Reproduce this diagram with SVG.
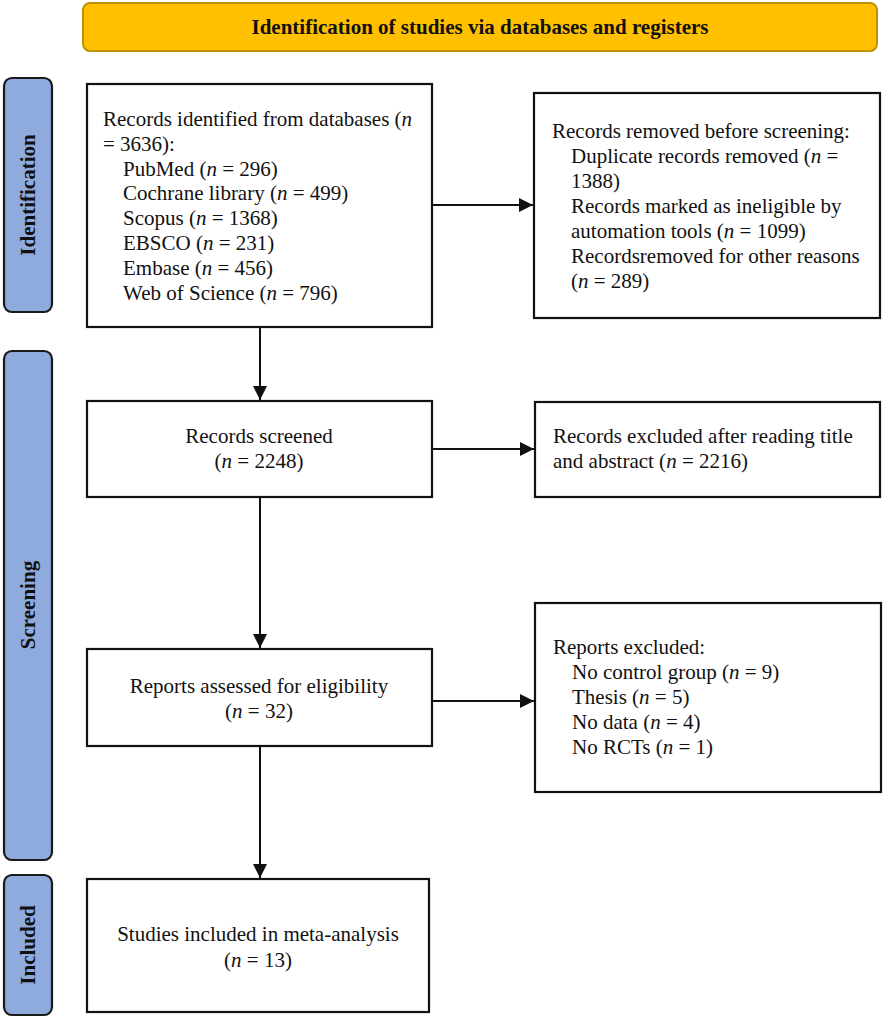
<svg xmlns="http://www.w3.org/2000/svg" width="886" height="1021" viewBox="0 0 886 1021">
<style>
.t{font-family:"Liberation Serif","Times New Roman",serif;font-size:21px;fill:#111}
.b{font-family:"Liberation Serif","Times New Roman",serif;font-weight:bold;font-size:21px;fill:#111}
.i{font-style:italic}
.box{fill:#fff;stroke:#111;stroke-width:2.2}
.side{fill:#8FAADC;stroke:#1a1a1a;stroke-width:2.2}
.ln{stroke:#111;stroke-width:2;fill:none}
.c{text-anchor:middle}
</style>
<defs>
<marker id="ah" viewBox="0 0 14 14" refX="14" refY="7" markerWidth="14" markerHeight="14" markerUnits="userSpaceOnUse" orient="auto">
<path d="M0,0 L14,7 L0,14 z" fill="#111"/>
</marker>
</defs>
<rect width="886" height="1021" fill="#fff"/>
<g id="banner">
<rect x="83" y="3" width="794" height="48" rx="7" fill="#FFC000" stroke="#BF9000" stroke-width="2"/>
<text class="b c" x="480" y="34">Identification of studies via databases and registers</text>
</g>
<g id="side-identification">
<rect class="side" x="4" y="78" width="48" height="234" rx="8"/>
<text class="b c" transform="translate(35,195) rotate(-90)">Identification</text>
</g>
<g id="side-screening">
<rect class="side" x="4" y="351" width="48" height="509" rx="8"/>
<text class="b c" transform="translate(35,605) rotate(-90)">Screening</text>
</g>
<g id="side-included">
<rect class="side" x="4" y="875" width="48" height="140" rx="8"/>
<text class="b c" transform="translate(35,945) rotate(-90)">Included</text>
</g>
<g id="records-identified">
<rect class="box" x="87" y="84" width="345" height="243"/>
<text class="t" x="103" y="126">Records identified from databases (<tspan class="i">n</tspan></text>
<text class="t" x="103" y="151">= 3636):</text>
<text class="t" x="123" y="176">PubMed (<tspan class="i">n</tspan> = 296)</text>
<text class="t" x="123" y="200">Cochrane library (<tspan class="i">n</tspan> = 499)</text>
<text class="t" x="123" y="225">Scopus (<tspan class="i">n</tspan> = 1368)</text>
<text class="t" x="123" y="250">EBSCO (<tspan class="i">n</tspan> = 231)</text>
<text class="t" x="123" y="275">Embase (<tspan class="i">n</tspan> = 456)</text>
<text class="t" x="123" y="300">Web of Science (<tspan class="i">n</tspan> = 796)</text>
</g>
<g id="records-removed">
<rect class="box" x="534" y="93" width="346" height="225"/>
<text class="t" x="552" y="138">Records removed before screening:</text>
<text class="t" x="571" y="163">Duplicate records removed (<tspan class="i">n</tspan> =</text>
<text class="t" x="571" y="188">1388)</text>
<text class="t" x="571" y="213">Records marked as ineligible by</text>
<text class="t" x="571" y="238">automation tools (<tspan class="i">n</tspan> = 1099)</text>
<text class="t" x="571" y="263">Recordsremoved for other reasons</text>
<text class="t" x="571" y="288">(<tspan class="i">n</tspan> = 289)</text>
</g>
<g id="records-screened">
<rect class="box" x="87" y="401" width="345" height="96"/>
<text class="t c" x="259" y="443">Records screened</text>
<text class="t c" x="259" y="468">(<tspan class="i">n</tspan> = 2248)</text>
</g>
<g id="records-excluded">
<rect class="box" x="535" y="402" width="345" height="95"/>
<text class="t" x="553" y="443">Records excluded after reading title</text>
<text class="t" x="553" y="468">and abstract (<tspan class="i">n</tspan> = 2216)</text>
</g>
<g id="reports-assessed">
<rect class="box" x="87" y="649" width="345" height="97"/>
<text class="t c" x="259" y="693">Reports assessed for eligibility</text>
<text class="t c" x="259" y="718">(<tspan class="i">n</tspan> = 32)</text>
</g>
<g id="reports-excluded">
<rect class="box" x="535" y="603" width="346" height="189"/>
<text class="t" x="553" y="654">Reports excluded:</text>
<text class="t" x="572" y="679">No control group (<tspan class="i">n</tspan> = 9)</text>
<text class="t" x="572" y="704">Thesis (<tspan class="i">n</tspan> = 5)</text>
<text class="t" x="572" y="729">No data (<tspan class="i">n</tspan> = 4)</text>
<text class="t" x="572" y="754">No RCTs (<tspan class="i">n</tspan> = 1)</text>
</g>
<g id="studies-included">
<rect class="box" x="87" y="879" width="342" height="133"/>
<text class="t c" x="258" y="941">Studies included in meta-analysis</text>
<text class="t c" x="258" y="967">(<tspan class="i">n</tspan> = 13)</text>
</g>
<g id="connectors">
<line class="ln" x1="260" y1="327" x2="260" y2="400" marker-end="url(#ah)"/>
<line class="ln" x1="432" y1="205" x2="533" y2="205" marker-end="url(#ah)"/>
<line class="ln" x1="432" y1="449" x2="534" y2="449" marker-end="url(#ah)"/>
<line class="ln" x1="260" y1="497" x2="260" y2="648" marker-end="url(#ah)"/>
<line class="ln" x1="432" y1="701" x2="534" y2="701" marker-end="url(#ah)"/>
<line class="ln" x1="260" y1="746" x2="260" y2="878" marker-end="url(#ah)"/>
</g>
</svg>
